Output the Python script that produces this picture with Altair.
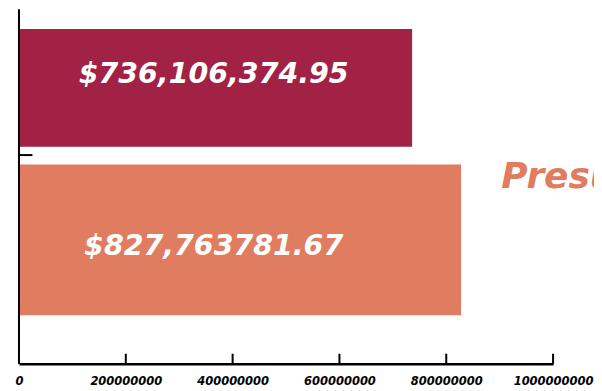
import altair as alt
import pandas as pd

# ---- data ----
categories = ["Ejecutado", "Presupuesto"]
values = [736106374.95, 827763781.67]
value_labels = ["$736,106,374.95", "$827,763781.67"]
x_ticks = [0, 200000000, 400000000, 600000000, 800000000, 1000000000]
annotation = ["Presupuesto"]

bar_colors = ["#A12245", "#E07C60"]
FONT = "DejaVu Sans"

df = pd.DataFrame({"cat": categories, "value": values, "label": value_labels})
ticks_df = pd.DataFrame({"tick": x_ticks})
ann_df = pd.DataFrame({"text": annotation})

W, H = 576, 355

x_scale = alt.Scale(domain=[0, 1000000000], range=[0, 535], nice=False)
y_scale = alt.Scale(domain=categories, range=[2.5, 307], paddingInner=0, paddingOuter=0)

bars = alt.Chart(df).mark_bar().encode(
    x=alt.X("value:Q", scale=x_scale,
            axis=alt.Axis(values=x_ticks, format="d", title=None, grid=False,
                          ticks=False, domainColor="black", domainWidth=2.5,
                          labelFont=FONT, labelFontSize=11.5, labelFontWeight="bold",
                          labelFontStyle="italic", labelColor="black",
                          labelPadding=12, labelFlush=False)),
    y=alt.Y("cat:N", scale=y_scale, axis=None, sort=categories),
    color=alt.Color("cat:N", scale=alt.Scale(domain=categories, range=bar_colors), legend=None),
    size=alt.Size("cat:N", scale=alt.Scale(domain=categories, range=[118, 151]), legend=None),
)

def bar_text(cat, dy):
    return alt.Chart(df).transform_filter(alt.datum.cat == cat).mark_text(
        font=FONT, fontSize=28.5, fontWeight="bold", fontStyle="italic",
        color="white", align="center", baseline="middle", dy=dy,
    ).encode(
        x=alt.value(195),
        y=alt.Y("cat:N", scale=y_scale, axis=None, sort=categories),
        text="label:N",
    )

text_top = bar_text(categories[0], -14)
text_bot = bar_text(categories[1], 6)

y_domain = alt.Chart(ann_df).mark_rule(color="black", strokeWidth=2).encode(
    x=alt.value(0), y=alt.value(0), y2=alt.value(H)
)
y_tick = alt.Chart(ann_df).mark_rule(color="black", strokeWidth=2).encode(
    x=alt.value(0), x2=alt.value(13.5), y=alt.value(146)
)
x_tick_marks = alt.Chart(ticks_df).mark_rule(color="black", strokeWidth=2).encode(
    x=alt.X("tick:Q", scale=x_scale), y=alt.value(H - 10), y2=alt.value(H)
)

ann = alt.Chart(ann_df).mark_text(
    font=FONT, fontSize=36, fontWeight="bold", fontStyle="italic",
    color=bar_colors[1], align="left", baseline="alphabetic", clip=True,
).encode(
    x=alt.value(483), y=alt.value(179), text="text:N"
)

chart = alt.layer(bars, text_top, text_bot, y_domain, y_tick, x_tick_marks, ann).properties(
    width=W, height=H,
    padding={"left": 6, "top": 0, "right": 0, "bottom": 0},
).configure_view(stroke=None)

chart.save("out.html", embed_options={"renderer": "svg", "actions": False})
